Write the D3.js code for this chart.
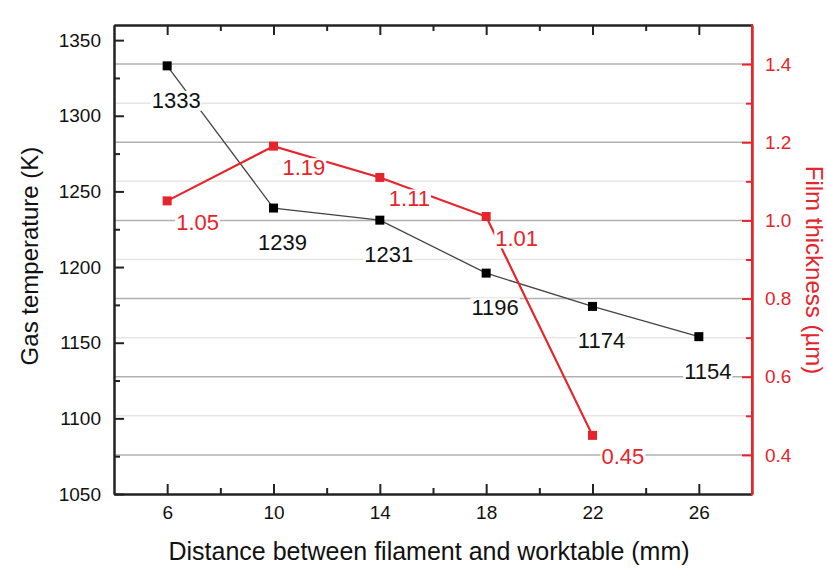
<!DOCTYPE html>
<html><head><meta charset="utf-8">
<script src="https://cdn.jsdelivr.net/npm/d3@7"></script>
<style>body{margin:0;background:#fff}svg{display:block;font-family:"Liberation Sans",Arial,sans-serif}</style>
</head><body><svg id="c" width="827" height="568"></svg>
<script>
const distances = [6, 10, 14, 18, 22, 26];
const gasTemperature = [1333, 1239, 1231, 1196, 1174, 1154];
const filmThickness = [1.05, 1.19, 1.11, 1.01, 0.45];
const xTicks = [6, 10, 14, 18, 22, 26];
const leftTicks = [1050, 1100, 1150, 1200, 1250, 1300, 1350];
const rightTicks = [0.4, 0.6, 0.8, 1.0, 1.2, 1.4];

const RED = "#e5242b";
const svg = d3.select("#c");
const L = 114, T = 25, R = 752, B = 494;
const x = d3.scaleLinear().domain([4, 28]).range([L, R]);
const yL = d3.scaleLinear().domain([1050, 1360]).range([B, T]);
const yR = d3.scaleLinear().domain([0.3, 1.5]).range([B, T]);

// gridlines
const minorR = d3.range(0.5, 1.45, 0.2);
svg.append("g").selectAll("line").data(minorR).join("line")
  .attr("x1", L).attr("x2", R).attr("y1", d => yR(d)).attr("y2", d => yR(d))
  .attr("stroke", "#e6e6e6").attr("stroke-width", 1.5);
svg.append("g").selectAll("line").data(rightTicks).join("line")
  .attr("x1", L).attr("x2", R).attr("y1", d => yR(d)).attr("y2", d => yR(d))
  .attr("stroke", "#b0b0b0").attr("stroke-width", 1.5);

// axes
const fs = 19;
const gB = svg.append("g").attr("transform", `translate(0,${B})`)
  .call(d3.axisBottom(x).tickValues(xTicks).tickSizeInner(-10).tickSizeOuter(0).tickPadding(12));
const gBm = svg.append("g").attr("transform", `translate(0,${B})`)
  .call(d3.axisBottom(x).tickValues([8,12,16,20,24]).tickSizeInner(-6).tickSizeOuter(0).tickFormat(""));
const gT = svg.append("g").attr("transform", `translate(0,${T})`)
  .call(d3.axisTop(x).tickValues(xTicks).tickSizeInner(-10).tickSizeOuter(0).tickFormat(""));
const gTm = svg.append("g").attr("transform", `translate(0,${T})`)
  .call(d3.axisTop(x).tickValues([8,12,16,20,24]).tickSizeInner(-6).tickSizeOuter(0).tickFormat(""));
const gL = svg.append("g").attr("transform", `translate(${L},0)`)
  .call(d3.axisLeft(yL).tickValues(leftTicks).tickSizeInner(-10).tickSizeOuter(0).tickPadding(13).tickFormat(d3.format("d")));
const gLm = svg.append("g").attr("transform", `translate(${L},0)`)
  .call(d3.axisLeft(yL).tickValues(d3.range(1075, 1360, 50)).tickSizeInner(-6).tickSizeOuter(0).tickFormat(""));
const gR = svg.append("g").attr("transform", `translate(${R},0)`)
  .call(d3.axisRight(yR).tickValues(rightTicks).tickSizeInner(-10).tickSizeOuter(0).tickPadding(13).tickFormat(d3.format(".1f")));
const gRm = svg.append("g").attr("transform", `translate(${R},0)`)
  .call(d3.axisRight(yR).tickValues(d3.range(0.5, 1.45, 0.2)).tickSizeInner(-6).tickSizeOuter(0).tickFormat(""));

[gB, gBm, gT, gTm, gL, gLm].forEach(g => {
  g.selectAll(".tick line").attr("stroke", "#222").attr("stroke-width", 2);
  g.selectAll("text").attr("fill", "#111").style("font-size", fs + "px").style("font-family", "Liberation Sans, Arial, sans-serif");
  g.select(".domain").attr("stroke", "#222").attr("stroke-width", 2);
});
[gR, gRm].forEach(g => {
  g.selectAll(".tick line").attr("stroke", RED).attr("stroke-width", 2);
  g.selectAll("text").attr("fill", RED).style("font-size", fs + "px").style("font-family", "Liberation Sans, Arial, sans-serif");
  g.select(".domain").attr("stroke", RED).attr("stroke-width", 2);
});
svg.append("line").attr("x1", R).attr("x2", R).attr("y1", T - 1).attr("y2", B + 1).attr("stroke", RED).attr("stroke-width", 2);

// series
const blackData = distances.map((d, i) => ({x: d, y: gasTemperature[i]}));
const redData = filmThickness.map((v, i) => ({x: distances[i], y: v}));

svg.append("path").datum(blackData)
  .attr("d", d3.line().x(d => x(d.x)).y(d => yL(d.y)))
  .attr("fill", "none").attr("stroke", "#444").attr("stroke-width", 1.3);
svg.append("path").datum(redData)
  .attr("d", d3.line().x(d => x(d.x)).y(d => yR(d.y)))
  .attr("fill", "none").attr("stroke", RED).attr("stroke-width", 2.2);

const ms = 9;
svg.append("g").selectAll("rect").data(blackData).join("rect")
  .attr("x", d => x(d.x) - ms/2).attr("y", d => yL(d.y) - ms/2)
  .attr("width", ms).attr("height", ms).attr("fill", "#000");
svg.append("g").selectAll("rect").data(redData).join("rect")
  .attr("x", d => x(d.x) - ms/2).attr("y", d => yR(d.y) - ms/2)
  .attr("width", ms).attr("height", ms).attr("fill", RED);

// labels with white knock-out
const lfs = 22;
function label(g, tx, ty, txt, color, anchor) {
  const t = g.append("text").attr("x", tx).attr("y", ty).attr("text-anchor", anchor)
    .attr("fill", color).style("font-size", lfs + "px").text(txt);
  const bb = t.node().getBBox();
  g.insert("rect", "text").attr("x", bb.x - 1).attr("y", bb.y + 3).attr("width", bb.width + 2).attr("height", bb.height - 5).attr("fill", "#fff");
}
const gl = svg.append("g");
blackData.forEach(d => {
  label(gl.append("g"), x(d.x) + 9, yL(d.y) + 42, d3.format("d")(d.y), "#111", "middle");
});
redData.forEach(d => {
  label(gl.append("g"), x(d.x) + 9, yR(d.y) + 29, d3.format(".2f")(d.y), RED, "start");
});

// axis titles
svg.append("text").attr("x", 429).attr("y", 560).attr("text-anchor", "middle")
  .attr("fill", "#111").style("font-size", "25px").text("Distance between filament and worktable (mm)");
svg.append("text").attr("transform", `translate(38,256) rotate(-90)`).attr("text-anchor", "middle")
  .attr("fill", "#111").style("font-size", "24px").text("Gas temperature (K)");
svg.append("text").attr("transform", `translate(806,270) rotate(90)`).attr("text-anchor", "middle")
  .attr("fill", RED).style("font-size", "24px").text("Film thickness (µm)");
</script></body></html>
